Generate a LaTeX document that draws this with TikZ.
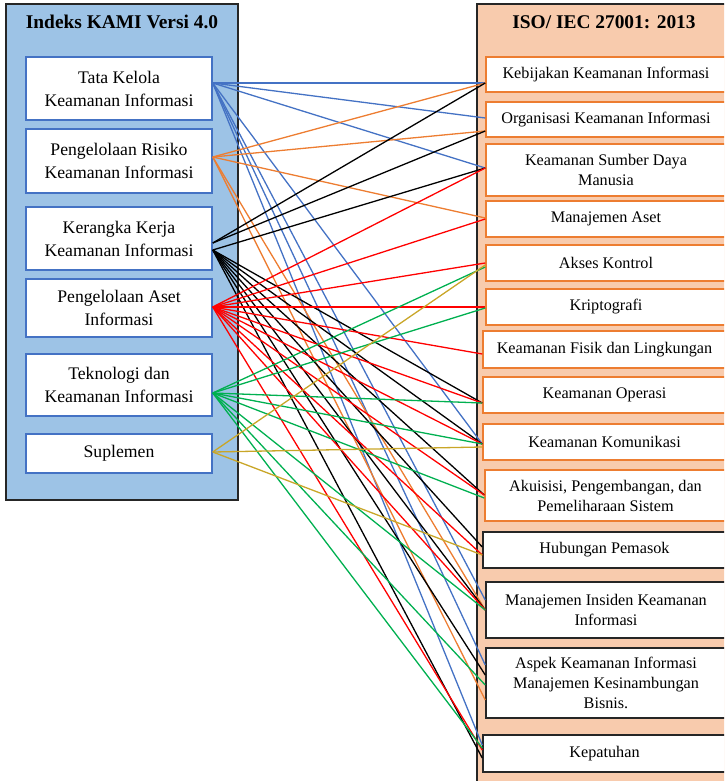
\documentclass[tikz,border=0pt]{standalone}
\usepackage{fontspec}
\setmainfont{Liberation Serif}
\usetikzlibrary{calc}

\definecolor{panelblue}{RGB}{157,195,230}
\definecolor{panelpeach}{RGB}{248,203,173}
\definecolor{officeblue}{RGB}{68,114,196}
\definecolor{officeorange}{RGB}{237,125,49}
\definecolor{officegreen}{RGB}{0,176,80}
\definecolor{goldline}{RGB}{201,166,40}
\definecolor{edgegray}{RGB}{38,38,38}

\begin{document}
\begin{tikzpicture}[x=1pt,y=-1pt,
  panel/.style={draw=edgegray, line width=1.5pt},
  kamibox/.style={draw=officeblue, fill=white, line width=1.5pt, rectangle,
    align=center, inner sep=0pt, minimum width=186pt,
    font=\fontsize{17.7}{23}\selectfont},
  isobox/.style={draw=officeorange, fill=white, line width=1.5pt, rectangle,
    align=center, inner sep=0pt, font=\fontsize{16.2}{20}\selectfont},
  isoboxdark/.style={isobox, draw=edgegray},
  paneltitle/.style={font=\fontsize{19.4}{23}\selectfont\bfseries},
  link/.style={line width=1.3pt},
  lblue/.style={link, draw=officeblue},
  lorange/.style={link, draw=officeorange},
  lblack/.style={link, draw=black},
  lred/.style={link, draw=red},
  lgreen/.style={link, draw=officegreen},
  lgold/.style={link, draw=goldline},
]
\clip (0,0) rectangle (724,781);

% panels
\draw[panel, fill=panelblue] (6,4) rectangle (238,500);
\draw[panel, fill=panelpeach] (477,4) rectangle (745,800);
\node[paneltitle] (kamititle) at (122,22) {Indeks KAMI Versi 4.0};
\node[paneltitle] (isotitle) at (604,22) {ISO/ IEC 27001: 2013};

% KAMI index areas
\node[kamibox, minimum height=63pt] (k1) at (119,88.5) {Tata Kelola\\Keamanan Informasi};
\node[kamibox, minimum height=64pt] (k2) at (119,161) {Pengelolaan Risiko\\Keamanan Informasi};
\node[kamibox, minimum height=63pt] (k3) at (119,238.5) {Kerangka Kerja\\Keamanan Informasi};
\node[kamibox, minimum height=58pt] (k4) at (119,308) {Pengelolaan Aset\\Informasi};
\node[kamibox, minimum height=62pt] (k5) at (119,385) {Teknologi dan\\Keamanan Informasi};
\node[kamibox, minimum height=39pt] (k6) at (119,453.5) {Suplemen};

% ISO 27001 clauses
\node[isobox, minimum width=240pt, minimum height=35pt] (r1) at (606,74.5) {Kebijakan Keamanan Informasi};
\node[isobox, minimum width=240pt, minimum height=35pt] (r2) at (606,119.5) {Organisasi Keamanan Informasi};
\node[isobox, minimum width=240pt, minimum height=52pt] (r3) at (606,170) {Keamanan Sumber Daya\\Manusia};
\node[isobox, minimum width=240pt, minimum height=36pt] (r4) at (606,219) {Manajemen Aset};
\node[isobox, minimum width=240pt, minimum height=36pt] (r5) at (606,263) {Akses Kontrol};
\node[isobox, minimum width=240pt, minimum height=36pt] (r6) at (606,307) {Kriptografi};
\node[isobox, minimum width=243pt, minimum height=37pt] (r7) at (604.5,349.5) {Keamanan Fisik dan Lingkungan};
\node[isobox, minimum width=243pt, minimum height=36pt] (r8) at (604.5,395) {Keamanan Operasi};
\node[isobox, minimum width=243pt, minimum height=36pt] (r9) at (604.5,442) {Keamanan Komunikasi};
\node[isobox, minimum width=241pt, minimum height=51pt] (r10) at (605.5,495.5) {Akuisisi, Pengembangan, dan\\Pemeliharaan Sistem};
\node[isoboxdark, minimum width=243pt, minimum height=36pt] (r11) at (604.5,550) {Hubungan Pemasok};
\node[isoboxdark, minimum width=240pt, minimum height=56pt] (r12) at (606,610) {Manajemen Insiden Keamanan\\Informasi};
\node[isoboxdark, minimum width=240pt, minimum height=70pt] (r13) at (606,683) {Aspek Keamanan Informasi\\Manajemen Kesinambungan\\Bisnis.};
\node[isoboxdark, minimum width=243pt, minimum height=37pt] (r14) at (604.5,753.5) {Kepatuhan};

% line origins on the KAMI boxes
\coordinate (s1) at ($(k1.east)+(0,-5.5)$);
\coordinate (s2) at ($(k2.east)+(0,-4)$);
\coordinate (s3a) at ($(k3.east)+(0,4.5)$);
\coordinate (s3b) at ($(k3.east)+(0,11.5)$);
\coordinate (s4) at ($(k4.east)+(0,-1)$);
\coordinate (s5) at ($(k5.east)+(0,8)$);
\coordinate (s6) at ($(k6.east)+(0,-1.5)$);

% Tata Kelola
\draw[lblue] (s1) -- ($(r1.west)+(0,8.5)$);
\draw[lblue] (s1) -- ($(r2.west)+(0,-1.5)$);
\draw[lblue] (s1) -- ($(r3.west)+(0,-2)$);
\draw[lblue] (s1) -- ($(r9.west)+(0,2)$);
\draw[lblue] (s1) -- ($(r12.west)+(0,-10)$);
\draw[lblue] (s1) -- ($(r13.west)+(0,-18)$);
\draw[lblue] (s1) -- ($(r14.west)+(0,-8.5)$);

% Pengelolaan Risiko
\draw[lorange] (s2) -- ($(r1.west)+(0,8.5)$);
\draw[lorange] (s2) -- ($(r2.west)+(0,11.5)$);
\draw[lorange] (s2) -- ($(r4.west)+(0,-1)$);
\draw[lorange] (s2) -- ($(r12.west)+(0,0)$);
\draw[lorange] (s2) -- ($(r13.west)+(0,17)$);

% Kerangka Kerja
\draw[lblack] (s3a) -- ($(r1.west)+(0,8.5)$);
\draw[lblack] (s3a) -- ($(r2.west)+(0,11.5)$);
\draw[lblack] (s3b) -- ($(r3.west)+(0,-2)$);
\draw[lblack] (s3b) -- ($(r8.west)+(0,8)$);
\draw[lblack] (s3b) -- ($(r9.west)+(0,2)$);
\draw[lblack] (s3b) -- ($(r10.west)+(0,-0.5)$);
\draw[lblack] (s3b) -- ($(r11.west)+(0,-3)$);
\draw[lblack] (s3b) -- ($(r12.west)+(0,0)$);
\draw[lblack] (s3b) -- ($(r13.west)+(0,-8)$);
\draw[lblack] (s3b) -- ($(r14.west)+(0,4.5)$);

% Pengelolaan Aset
\draw[lred] (s4) -- ($(r3.west)+(0,-2)$);
\draw[lred] (s4) -- ($(r4.west)+(0,0)$);
\draw[lred] (s4) -- ($(r5.west)+(0,0)$);
\draw[lred] (s4) -- ($(r6.west)+(0,0)$);
\draw[lred] (s4) -- ($(r7.west)+(0,4.5)$);
\draw[lred] (s4) -- ($(r8.west)+(0,8)$);
\draw[lred] (s4) -- ($(r9.west)+(0,2)$);
\draw[lred] (s4) -- ($(r10.west)+(0,-0.5)$);
\draw[lred] (s4) -- ($(r11.west)+(0,5)$);
\draw[lred] (s4) -- ($(r12.west)+(0,0)$);
\draw[lred] (s4) -- ($(r14.west)+(0,-3.5)$);

% Teknologi
\draw[lgreen] (s5) -- ($(r5.west)+(0,4)$);
\draw[lgreen] (s5) -- ($(r6.west)+(0,1)$);
\draw[lgreen] (s5) -- ($(r8.west)+(0,8)$);
\draw[lgreen] (s5) -- ($(r9.west)+(0,2)$);
\draw[lgreen] (s5) -- ($(r10.west)+(0,2.5)$);
\draw[lgreen] (s5) -- ($(r12.west)+(0,0)$);
\draw[lgreen] (s5) -- ($(r13.west)+(0,2)$);
\draw[lgreen] (s5) -- ($(r14.west)+(0,-5.5)$);

% Suplemen
\draw[lgold] (s6) -- ($(r5.west)+(0,2)$);
\draw[lgold] (s6) -- ($(r9.west)+(0,5)$);
\draw[lgold] (s6) -- ($(r11.west)+(0,5)$);
\end{tikzpicture}
\end{document}
